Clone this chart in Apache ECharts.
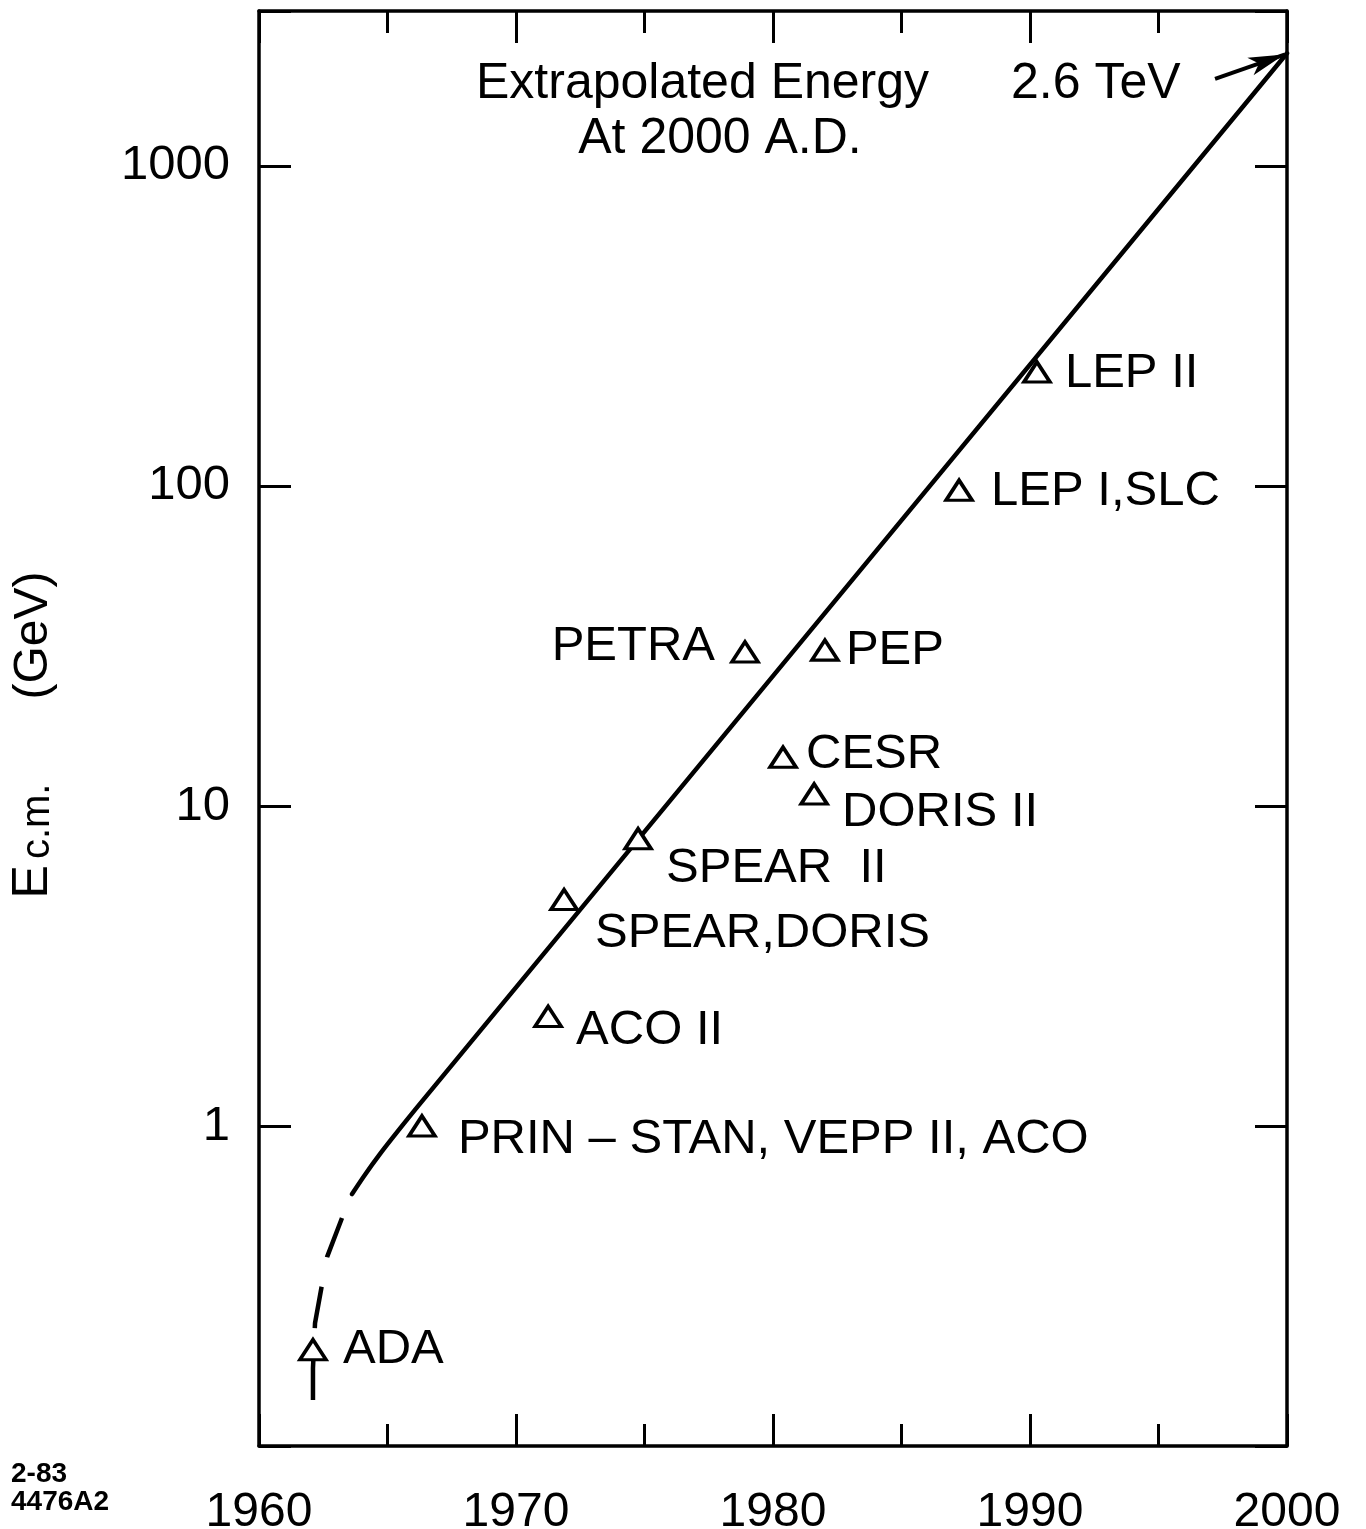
<!DOCTYPE html>
<html>
<head>
<meta charset="utf-8">
<script src="https://cdn.jsdelivr.net/npm/echarts@6/dist/echarts.min.js"></script>
<style>
html,body{margin:0;padding:0;background:#fff;}
#chart{width:1366px;height:1529px;}
</style>
</head>
<body>
<div id="chart"></div>
<script>
// ---- data ----
const machines = ['ADA', 'PRIN – STAN, VEPP II, ACO', 'ACO II', 'SPEAR,DORIS', 'SPEAR  II', 'CESR', 'PETRA', 'PEP', 'DORIS II', 'LEP I,SLC', 'LEP II'];
const machineYears = [1962.1, 1966.34, 1971.25, 1971.87, 1974.75, 1980.39, 1978.91, 1982.02, 1981.6, 1987.24, 1990.27];
const machineEnergies = [0.2, 1.0, 2.2, 5.1, 7.9, 14.2, 30.3, 30.7, 10.9, 97, 227];

// trend curve: solid part (fit) and dashed early part
const trendYears = [1963.62, 1964.09, 1964.71, 1965.41, 1966.26, 2000];
const trendEnergies = [0.613, 0.698, 0.818, 0.965, 1.172, 2250];
const earlyYears = [1963.62, 1963.23, 1962.65, 1962.45, 1962.18, 1962.1, 1962.1];
const earlyEnergies = [0.613, 0.516, 0.39, 0.319, 0.242, 0.175, 0.139];

// arrow from "2.6 TeV" to the end of the curve
const arrowFrom = [1997.2, 1871];
const arrowTo = [1999.9, 2230];

const xTickLabels = [1960, 1970, 1980, 1990, 2000];
const yTickLabels = [1, 10, 100, 1000];

// ---- styling / placement ----
const FONT = "'Liberation Sans', Arial, sans-serif";
const labelPlace = {
  'ADA': {position: 'right', offset: [15, 0]},
  'PRIN – STAN, VEPP II, ACO': {position: 'right', offset: [21, 13]},
  'ACO II': {position: 'right', offset: [13, 14]},
  'SPEAR,DORIS': {position: 'right', offset: [16, 34]},
  'SPEAR  II': {position: 'right', offset: [13, 30]},
  'CESR': {position: 'right', offset: [8, -3]},
  'PETRA': {position: 'left', offset: [-15, -5]},
  'PEP': {position: 'right', offset: [6, 0]},
  'DORIS II': {position: 'right', offset: [13, 18]},
  'LEP I,SLC': {position: 'right', offset: [17, 1]},
  'LEP II': {position: 'right', offset: [13, 1]}
};

const pointData = machines.map((n, i) => ({
  name: n,
  value: [machineYears[i], machineEnergies[i]],
  label: labelPlace[n]
}));
const trendData = trendYears.map((y, i) => [y, trendEnergies[i]]);
const earlyData = earlyYears.map((y, i) => [y, earlyEnergies[i]]);

const lineCol = '#000';
const frame = {show: true, onZero: false, lineStyle: {color: lineCol, width: 3.5}};

const xBase = {
  type: 'value', min: 1960, max: 2000, interval: 10,
  axisLine: frame,
  splitLine: {show: false},
  axisTick: {show: true, inside: true, length: 32, lineStyle: {color: lineCol, width: 3}},
  minorTick: {show: true, splitNumber: 2, length: 22, lineStyle: {color: lineCol, width: 3}},
  minorSplitLine: {show: false}
};
const yBase = {
  type: 'log', logBase: 10, min: 0.1, max: 3050,
  axisLine: frame,
  splitLine: {show: false},
  axisTick: {show: true, inside: true, length: 32, lineStyle: {color: lineCol, width: 3}},
  minorTick: {show: false}
};

const option = {
  animation: false,
  backgroundColor: '#fff',
  grid: {left: 259, top: 11, width: 1028, height: 1435, containLabel: false, outerBoundsMode: 'none'},
  xAxis: [
    Object.assign({}, xBase, {
      position: 'bottom',
      axisLabel: {
        show: true, margin: 43, fontSize: 48, color: '#000', fontFamily: FONT,
        showMinLabel: true, showMaxLabel: true,
        formatter: v => (xTickLabels.indexOf(Math.round(v)) >= 0 ? String(Math.round(v)) : '')
      }
    }),
    Object.assign({}, xBase, {position: 'top', axisLabel: {show: false}})
  ],
  yAxis: [
    Object.assign({}, yBase, {
      position: 'left',
      axisLabel: {
        show: true, margin: 29, fontSize: 49, color: '#000', fontFamily: FONT,
        showMinLabel: true, showMaxLabel: true,
        formatter: v => (yTickLabels.indexOf(Math.round(v)) >= 0 && Math.abs(v - Math.round(v)) < 1e-6 * Math.max(1, v) ? String(Math.round(v)) : '')
      }
    }),
    Object.assign({}, yBase, {position: 'right', axisLabel: {show: false}})
  ],
  series: [
    {
      type: 'line', name: 'early', xAxisIndex: 0, yAxisIndex: 0,
      data: earlyData, showSymbol: false, symbol: 'none', silent: true, z: 2,
      lineStyle: {color: lineCol, width: 4.5, type: [42, 30], dashOffset: 46, cap: 'butt', opacity: 1}
    },
    {
      type: 'line', name: 'trend', xAxisIndex: 0, yAxisIndex: 0,
      data: trendData, showSymbol: false, symbol: 'none', silent: true, z: 2,
      smooth: 0.3,
      lineStyle: {color: lineCol, width: 4.5, cap: 'round', opacity: 1},
      markLine: {
        silent: true, animation: false,
        symbol: ['none', 'arrow'], symbolSize: [14, 36],
        lineStyle: {color: lineCol, width: 4, type: 'solid', opacity: 1},
        itemStyle: {color: lineCol, opacity: 1},
        label: {show: false},
        emphasis: {disabled: true},
        data: [[{coord: arrowFrom}, {coord: arrowTo}]]
      }
    },
    {
      type: 'scatter', name: 'machines', xAxisIndex: 0, yAxisIndex: 0,
      data: pointData, symbol: 'triangle', symbolSize: [26, 20], z: 5, silent: true,
      itemStyle: {color: '#fff', borderColor: lineCol, borderWidth: 3.5, opacity: 1},
      emphasis: {disabled: true},
      label: {show: true, formatter: '{b}', distance: 0, fontSize: 49, color: '#000', opacity: 1, fontFamily: FONT}
    }
  ],
  graphic: [
    {type: 'text', x: 476, y: 84, style: {text: 'Extrapolated Energy', fill: '#000', fontSize: 50, fontFamily: FONT, align: 'left', verticalAlign: 'middle'}},
    {type: 'text', x: 720, y: 139, style: {text: 'At 2000 A.D.', fill: '#000', fontSize: 50, fontFamily: FONT, align: 'center', verticalAlign: 'middle'}},
    {type: 'text', x: 1011, y: 84, style: {text: '2.6 TeV', fill: '#000', fontSize: 50, fontFamily: FONT, align: 'left', verticalAlign: 'middle'}},
    {type: 'text', x: 11, y: 1474, style: {text: '2-83', fill: '#000', fontSize: 28, fontWeight: 'bold', fontFamily: FONT, align: 'left', verticalAlign: 'middle'}},
    {type: 'text', x: 11, y: 1502, style: {text: '4476A2', fill: '#000', fontSize: 28, fontWeight: 'bold', fontFamily: FONT, align: 'left', verticalAlign: 'middle'}},
    {
      type: 'text', x: 33, y: 735, rotation: Math.PI / 2,
      style: {
        text: '{e|E}{a|}{s|c.m.}{b|}{g|(GeV)}',
        fill: '#000', align: 'center', verticalAlign: 'middle', fontFamily: FONT,
        rich: {
          e: {fontSize: 50, lineHeight: 50, fontFamily: FONT, verticalAlign: 'bottom', fill: '#000'},
          a: {width: 6, fontSize: 50, lineHeight: 50, verticalAlign: 'bottom'},
          s: {fontSize: 40, lineHeight: 40, fontFamily: FONT, verticalAlign: 'bottom', fill: '#000'},
          b: {width: 84, fontSize: 50, lineHeight: 50, verticalAlign: 'bottom'},
          g: {fontSize: 48, lineHeight: 48, fontFamily: FONT, verticalAlign: 'bottom', fill: '#000'}
        }
      }
    }
  ]
};

const chart = echarts.init(document.getElementById('chart'), null, {renderer: 'canvas'});
chart.setOption(option);
</script>
</body>
</html>
